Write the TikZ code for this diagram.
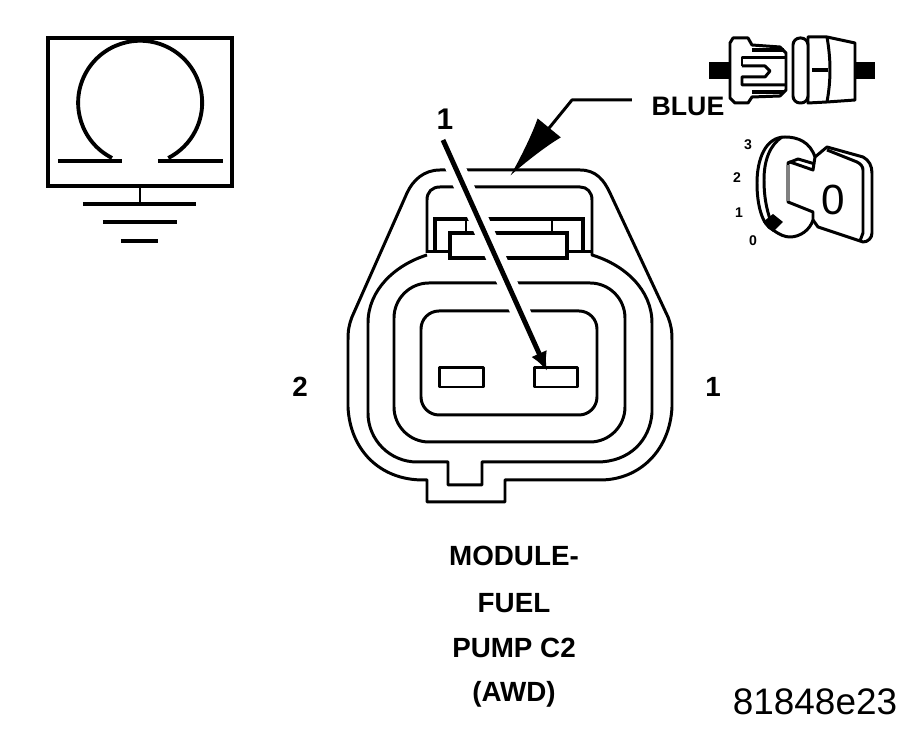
\documentclass[tikz,border=0pt]{standalone}
\usepackage{xcolor}
\usepackage{fontspec}
\setmainfont{Liberation Sans}
\usetikzlibrary{arrows.meta,calc}

\tikzset{
  wire/.style={line width=0.85pt,line join=round},
  heavy/.style={line width=1.2pt,line join=miter},
  boldlabel/.style={font=\fontsize{7.9}{9}\selectfont\bfseries,inner sep=0pt},
  ticklabel/.style={font=\fontsize{4}{5}\selectfont\bfseries,inner sep=0pt}
}

\begin{document}
\begin{tikzpicture}[x=0.01cm,y=-0.01cm]
          \useasboundingbox (0,0) rectangle (917,734);

          % ------- ground symbol box -------
          \draw[heavy] (48,38) rectangle (232,186);
          \draw[wire,line width=1.1pt] (112,158) arc[start angle=117,end angle=423,radius=62];
          \draw[heavy] (58,161) -- (122,161);
          \draw[heavy] (158,161) -- (223,161);
          \draw[wire] (140,186) -- (140,204);
          \draw[heavy] (83,204) -- (196,204);
          \draw[heavy] (103,222) -- (177,222);
          \draw[heavy] (121,241) -- (158,241);

          % ------- connector shell -------
          \draw[wire] (440,170) -- (580,170)
                .. controls (596,170) and (604,180) .. (610,193)
                -- (668,317) .. controls (671,325) and (672,330) .. (672,340)
                -- (672,407) .. controls (670,450) and (640,480) .. (600,480)
                -- (505,480) -- (505,502) -- (427,502) -- (427,480) -- (423,480)
                .. controls (380,480) and (350,450) .. (348,407)
                -- (348,340) .. controls (348,330) and (349,325) .. (352,317)
                -- (407,193) .. controls (413,180) and (424,170) .. (440,170);
          \draw[wire] (427,253) -- (427,200)
                .. controls (427,192) and (432,187) .. (440,187)
                -- (580,187) .. controls (587,187) and (592,192) .. (592,200)
                -- (592,255) .. controls (625,265) and (652,290) .. (652,323)
                -- (652,413) .. controls (650,440) and (630,462) .. (597,462)
                -- (482,462) -- (482,485) -- (448,485) -- (448,462) -- (417,462)
                .. controls (390,462) and (368,440) .. (368,413)
                -- (368,323) .. controls (368,290) and (395,265) .. (427,255);

          % ------- latch -------
          \draw[wire] (427,252) -- (450,252);
          \draw[wire] (567,252) -- (592,252);
          \draw[heavy] (435,251) -- (435,219) -- (583,219) -- (583,251);
          \draw[wire] (466,219) -- (466,233);
          \draw[wire] (552,219) -- (552,233);
          \draw[heavy] (450,233) rectangle (567,258);

          % ------- cavity -------
          \draw[wire,rounded corners=0.35cm] (394,283) rectangle (625,442);
          \draw[wire,rounded corners=0.18cm] (421,311) rectangle (597,415);
          \node[draw,wire,inner sep=0pt,minimum width=0.43cm,minimum height=0.19cm] (pinB) at (461.5,377.5) {};
          \node[draw,wire,inner sep=0pt,minimum width=0.42cm,minimum height=0.19cm] (pinA) at (556,377.5) {};

          % ------- labels -------
          \node[boldlabel] (numone) at (445,119) {\fontsize{8.5}{10}\selectfont 1};
          \node[boldlabel,font=\fontsize{7.6}{9}\selectfont\bfseries] (colour) at (688,106) {BLUE};
          \node[boldlabel] (cavB) at (300,387) {2};
          \node[boldlabel] (cavA) at (713,387) {1};
          \node[boldlabel] (line1) at (514,556) {MODULE-};
          \node[boldlabel] (line2) at (514,603) {FUEL};
          \node[boldlabel] (line3) at (514,648) {PUMP C2};
          \node[boldlabel] (line4) at (514,694) {(AWD)};
          \node[inner sep=0pt,font=\fontsize{10.5}{12}\selectfont] (figno) at (815,702) {81848e23};

          % ------- leader arrows -------
          \coordinate (numstart) at (443,140);
          \coordinate (numtip) at (547,371);
          \coordinate (colstart) at (632,100);
          \coordinate (colbend) at (572,100);
          \coordinate (coltip) at (510,176);
          \draw[white,line width=5.5pt] (numstart) -- ($(numstart)!0.9!(numtip)$);
          \draw[line width=1.4pt,-{Latex[length=1.9mm,width=1.7mm]}] (numstart) -- (numtip);
          \draw[wire,-{Latex[length=6.2mm,width=3mm]}] (colstart) -- (colbend) -- (coltip);

          % ------- plug icon -------
          \fill (709,62) rectangle (730,79);
          \fill (855,62) rectangle (875,79);
          \draw[wire,fill=white] (730,43) -- (733,38) -- (748,38) -- (752,45) -- (780,47)
                -- (786,53) -- (786,90) -- (780,96) -- (752,97) -- (748,103)
                -- (735,103) -- (730,98) -- cycle;
          \draw[heavy] (752,50) -- (784,50);
          \draw[heavy] (752,92) -- (784,92);
          \draw[wire] (742,66) -- (742,58) -- (786,58);
          \draw[wire] (742,66) -- (765,66) -- (770,71) -- (765,77) -- (742,77) -- (742,85) -- (786,85);
          \draw[wire,fill=white] (808,37) -- (827,37) -- (855,43) -- (855,100) -- (827,102) -- (808,103) -- cycle;
          \draw[wire,fill=white,rounded corners=2pt] (793,38) rectangle (808,103);
          \draw[wire] (827,37) .. controls (831,60) and (831,80) .. (827,102);
          \draw[heavy] (812,70) -- (828,70);

          % ------- ignition key icon -------
          \draw[wire] (815,157) -- (827,147) -- (863,157)
                .. controls (869,160) and (872,166) .. (872,173)
                -- (872,233) .. controls (872,238) and (868,242) .. (863,242)
                -- (818,227) -- (813,220);
          \draw[wire] (827,150) -- (857,162) .. controls (861,164) and (863,167) .. (863,170)
                -- (863,233) -- (860,241);
          \draw[wire,fill=white] (815,157) .. controls (810,142) and (798,137) .. (785,137)
                .. controls (765,137) and (757,160) .. (757,183)
                .. controls (757,205) and (762,225) .. (773,230)
                .. controls (780,235) and (785,237) .. (790,237)
                .. controls (800,237) and (810,230) .. (813,220)
                -- (813,212) -- (788,202) -- (788,163) -- (790,162) -- (813,170) -- cycle;
          \draw[gray,line width=1.3pt] (788,165) -- (788,201);
          \draw[wire] (788,163) -- (798,159) -- (815,164);
          \draw[wire] (782,137) .. controls (770,145) and (764,160) .. (764,180)
                .. controls (764,195) and (766,208) .. (771,222);
          \fill (773,214) -- (783,222) -- (773,232) -- (763,222) -- cycle;
          \node[inner sep=0pt,font=\fontsize{12}{14}\selectfont] (keyzero) at (833,200) {0};
          \node[ticklabel] (posthree) at (748,145) {3};
          \node[ticklabel] (postwo) at (737,178) {2};
          \node[ticklabel] (posone) at (739,213) {1};
          \node[ticklabel] (poszero) at (753,241) {0};
        \end{tikzpicture}
\end{document}
